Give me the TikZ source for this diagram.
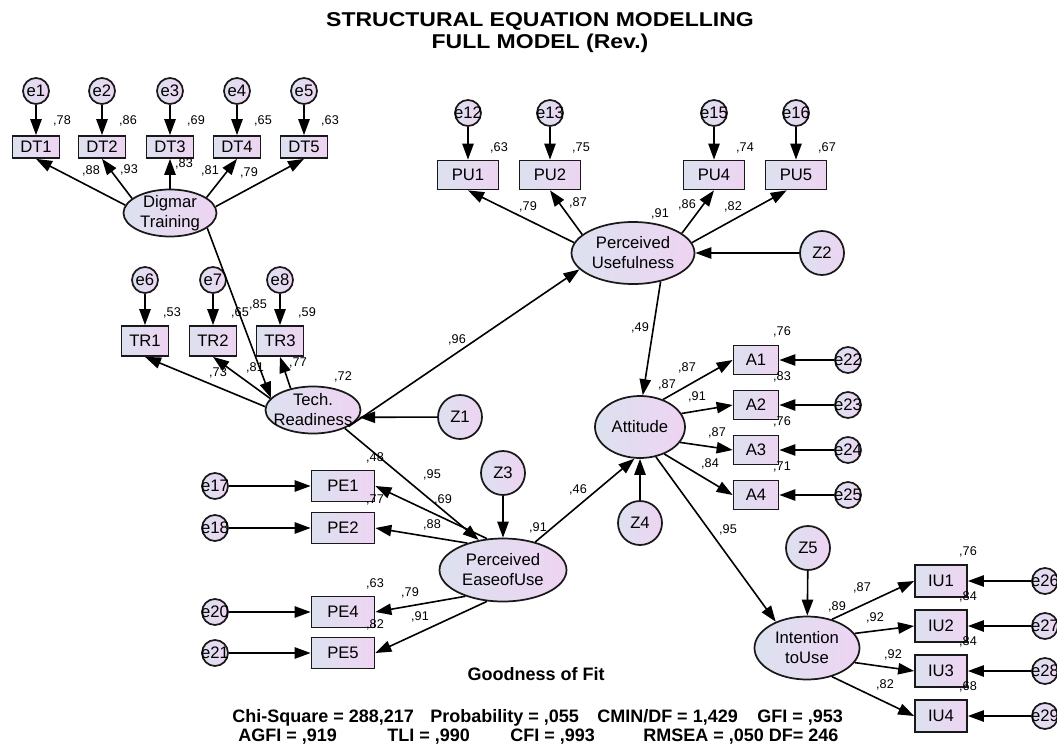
\documentclass[tikz,border=0pt]{standalone}
\usepackage{fontspec}
\setmainfont{Liberation Sans}
\newfontfamily\titlefont[FakeStretch=1.15]{Liberation Sans}
\usetikzlibrary{arrows.meta}
\usetikzlibrary{shapes.geometric}
\definecolor{semleft}{RGB}{220,225,239}
\definecolor{semright}{RGB}{238,212,242}

\begin{document}
\begin{tikzpicture}[x=0.75pt,y=-0.75pt,
    every node/.style={font=\fontsize{12.5}{15}\selectfont},
    obs/.style={draw=black!90,line width=1.3pt,left color=semleft,right color=semright,inner sep=0pt},
    lat/.style={ellipse,draw=black!90,line width=1.3pt,left color=semleft,right color=semright,inner sep=-6pt,align=center},
    err/.style={circle,draw=black!90,line width=1.3pt,left color=semleft,right color=semright,inner sep=-6pt,minimum size=19.5pt},
    dist/.style={circle,draw=black!90,line width=1.3pt,left color=semleft,right color=semright,inner sep=0pt,minimum size=33pt},
    coef/.style={font=\fontsize{9.5}{11}\selectfont,inner sep=0pt},
    foot/.style={font=\fontsize{13.5}{15}\selectfont\bfseries,inner sep=0pt,anchor=base west},
    link/.style={-{Triangle[length=12pt,width=8.5pt]},line width=1.2pt}]
    \useasboundingbox (0,0) rectangle (1057,746);
    \node[font=\titlefont\fontsize{15}{16.5}\selectfont\bfseries,align=center] (title) at (540,33) {STRUCTURAL EQUATION MODELLING\\FULL MODEL (Rev.)};

    % Digmar Training
    \node[lat,minimum width=69.75pt,minimum height=35.25pt] (dg) at (170,213) {Digmar\\Training};
    \foreach \i/\x/\r in {1/36/78,2/102/86,3/170/69,4/237/65,5/304/63} {
        \node[err] (e\i) at (\x,91) {e\i};
        \node[obs,minimum width=35.25pt,minimum height=16.5pt] (dt\i) at (\x,147) {DT\i};
        \node[coef] (rdt\i) at (\x+26,121) {,\r};
        \draw[link] (e\i) -- (dt\i);
    }
    \draw[link] (dg.170) -- (dt1.south);
    \draw[link] (dg.159) -- (dt2.south);
    \draw[link] (dg.north) -- (dt3.south);
    \draw[link] (dg.23) -- (dt4.south);
    \draw[link] (dg.8) -- (dt5.south);

    % Tech. Readiness
    \node[lat,minimum width=71.25pt,minimum height=35.25pt] (tr) at (313,410) {Tech.\\Readiness};
    \foreach \i/\j/\x/\r in {6/1/145/53,7/2/213/65,8/3/280/59} {
        \node[err] (e\i) at (\x,280) {e\i};
        \node[obs,minimum width=35.25pt,minimum height=22.5pt] (tr\j) at (\x,341) {TR\j};
        \node[coef] (rtr\j) at (\x+27,313) {,\r};
        \draw[link] (e\i) -- (tr\j);
    }
    \draw[link] (tr.176) -- (tr1.south);
    \draw[link] (tr.165) -- (tr2.south);
    \draw[link] (tr.136) -- (tr3.south);
    \draw[link] (dg.338) -- (tr.164);
    \node[dist] (z1) at (460,417) {Z1};
    \draw[link] (z1) -- (tr.-9);

    % Perceived Usefulness
    \node[lat,minimum width=92.25pt,minimum height=46.5pt] (pu) at (633,253) {Perceived\\Usefulness};
    \foreach \i/\j/\x/\r in {12/1/468/63,13/2/550/75,15/4/714/74,16/5/796/67} {
        \node[err] (e\i) at (\x,113) {e\i};
        \node[obs,minimum width=45.75pt,minimum height=21.75pt] (pu\j) at (\x,175) {PU\j};
        \node[coef] (rpu\j) at (\x+31,148) {,\r};
        \draw[link] (e\i) -- (pu\j);
    }
    \draw[link] (pu.170) -- (pu1.south);
    \draw[link] (pu.160) -- (pu2.south);
    \draw[link] (pu.22) -- (pu4.south);
    \draw[link] (pu.10) -- ([xshift=-7pt]pu5.south);
    \draw[link] (tr.-25) -- (pu.197);
    \node[dist] (z2) at (822,253) {Z2};
    \draw[link] (z2) -- (pu);

    % Attitude
    \node[lat,minimum width=67.5pt,minimum height=46.5pt] (att) at (640,427) {Attitude};
    \foreach \i/\j/\y/\r in {22/1/360/76,23/2/405/83,24/3/450/76,25/4/495/71} {
        \node[err] (e\i) at (848,\y) {e\i};
        \node[obs,minimum width=33.75pt,minimum height=21.75pt] (a\j) at (756,\y) {A\j};
        \node[coef] (ra\j) at (782,\y-28) {,\r};
        \draw[link] (e\i) -- (a\j);
    }
    \draw[link] (att.50) -- (a1.west);
    \draw[link] (att.18) -- (a2.west);
    \draw[link] (att.-21) -- (a3.west);
    \draw[link] (att.-48) -- (a4.west);
    \draw[link] (pu.-46) -- (att.85);
    \node[dist] (z4) at (640,523) {Z4};
    \draw[link] (z4) -- (att.south);

    % Perceived EaseofUse
    \node[lat,minimum width=95.25pt,minimum height=47.25pt] (peu) at (503,570) {Perceived\\EaseofUse};
    \foreach \i/\j/\y/\r in {17/1/486/48,18/2/528/77,20/4/612/63,21/5/653/82} {
        \node[err] (e\i) at (215,\y) {e\i};
        \node[obs,minimum width=47.25pt,minimum height=23.25pt] (pe\j) at (343,\y) {PE\j};
        \node[coef] (rpe\j) at (375,\y-28) {,\r};
        \draw[link] (e\i) -- (pe\j);
    }
    \draw[link] (peu.117) -- (pe1.east);
    \draw[link] (peu.143) -- (pe2.east);
    \draw[link] (peu.215) -- (pe4.east);
    \draw[link] (peu.243) -- (pe5.east);
    \draw[link] (tr.-30) -- (peu.129);
    \draw[link] (peu.41) -- (att.260);
    \node[dist] (z3) at (503,473) {Z3};
    \draw[link] (z3) -- (peu);

    % Intention toUse
    \node[lat,minimum width=78.75pt,minimum height=47.25pt] (iu) at (807,648) {Intention\\toUse};
    \foreach \i/\j/\y/\r in {26/1/581/76,27/2/626/84,28/3/671/84,29/4/716/68} {
        \node[err] (e\i) at (1045,\y) {e\i};
        \node[obs,minimum width=39pt,minimum height=24pt] (iu\j) at (941,\y) {IU\j};
        \node[coef] (riu\j) at (968,\y-29) {,\r};
        \draw[link] (e\i) -- (iu\j);
    }
    \draw[link] (iu.49) -- (iu1.west);
    \draw[link] (iu.17) -- (iu2.west);
    \draw[link] (iu.-17) -- (iu3.west);
    \draw[link] (iu.-49) -- (iu4.west);
    \draw[link] (att.-62) -- (iu.140);
    \node[dist] (z5) at (808,548) {Z5};
    \draw[link] (z5) -- (iu);

    % weights and squared multiple correlations
    \foreach \v/\x/\y [count=\n] in {88/91/171,93/129/170,83/184/164,81/210/171,79/249/173,
        85/258/305,72/343/377,73/218/373,81/255/368,77/298/363,96/457/340,
        91/660/214,79/528/207,87/578/203,86/687/205,82/733/207,49/640/328,
        87/667/385,87/687/368,91/697/397,87/717/433,84/710/464,46/578/490,
        91/538/528,95/432/475,69/443/500,88/432/525,79/410/593,91/420/617,
        95/728/530,89/837/607,87/862/588,92/875/618,92/893/655,82/885/685}
        \node[coef] (w\n) at (\x,\y) {,\v};

    % fit
    \node[foot,anchor=base] (gof) at (536,680) {Goodness of Fit};
    \node[foot] (chi) at (232,722) {Chi-Square = 288,217};
    \node[foot] (prob) at (430,722) {Probability = ,055};
    \node[foot] (cmin) at (597,722) {CMIN/DF = 1,429};
    \node[foot] (gfi) at (757,722) {GFI = ,953};
    \node[foot] (agfi) at (238,741) {AGFI = ,919};
    \node[foot] (tli) at (387,741) {TLI = ,990};
    \node[foot] (cfi) at (510,741) {CFI = ,993};
    \node[foot] (rmsea) at (643,741) {RMSEA = ,050 DF= 246};
\end{tikzpicture}
\end{document}
